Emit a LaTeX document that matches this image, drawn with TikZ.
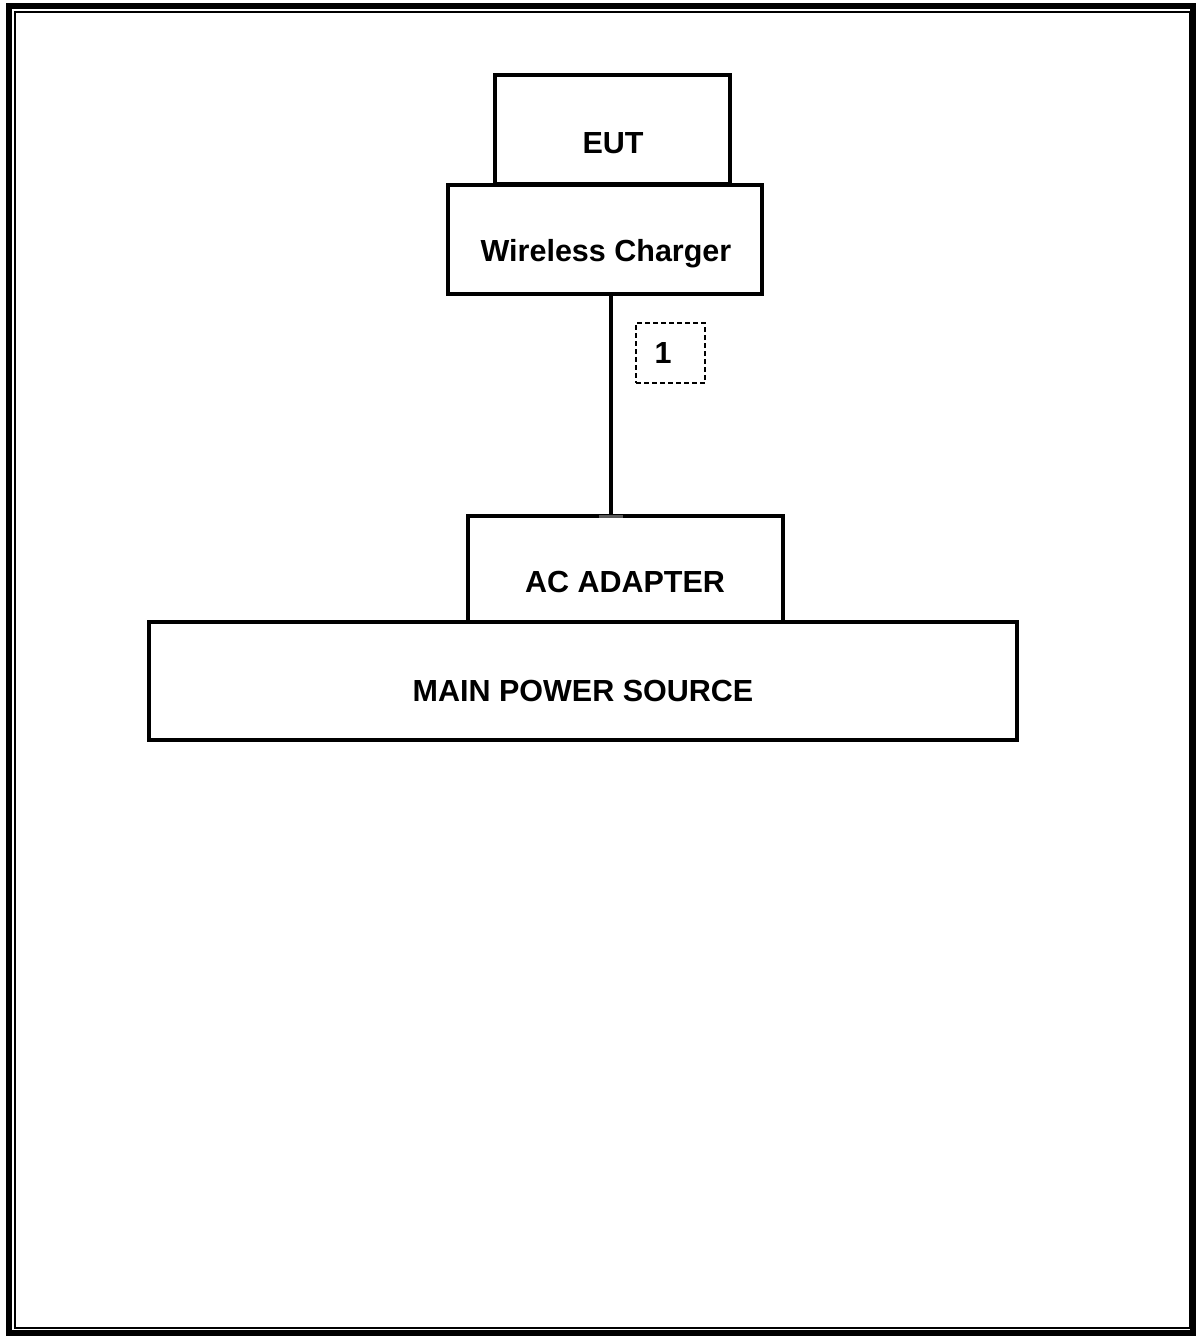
\documentclass[tikz,border=0pt]{standalone}
\usepackage{fontspec}
\setmainfont{Liberation Sans}
\begin{document}
\begin{tikzpicture}[x=1pt,y=-1pt,
  blk/.style={draw=black,line width=3.5pt,fill=white},
  lbl/.style={font=\fontsize{30.5}{36}\selectfont\bfseries,inner sep=0pt},
  tag/.style={draw=black,dash pattern=on 5pt off 3pt,line width=1.2pt,minimum width=69pt,minimum height=60pt,inner sep=0pt}]
\useasboundingbox (0,0) rectangle (1196,1336);
% page border
\draw[line width=6pt] (9,6) rectangle (1193,1333);
\draw[line width=2pt] (14.5,11.5) rectangle (1190,1328);
% boxes
\draw[blk] (495,75) rectangle (730,184);
\node[lbl] (eut) at (613,143) {EUT};
\draw[blk] (448,185) rectangle (762,294);
\node[lbl] (wc) at (606,254) {Wireless Charger};
\coordinate (wcb) at (611,294);
\draw[blk] (468,516) rectangle (783,622);
\node[lbl] (ac) at (625,582) {AC ADAPTER};
\coordinate (act) at (611,516);
\draw[blk] (149,622) rectangle (1017,740);
\node[lbl] (mps) at (583,691) {MAIN POWER SOURCE};
% connector
\draw[line width=4pt] (wcb) -- (act);
\draw[line width=3pt,gray!70!black] (599,516) -- (623,516);
\node[tag] (one) at (670.5,353) {};
\node[lbl] (onet) at (663,353) {1};
\end{tikzpicture}
\end{document}
